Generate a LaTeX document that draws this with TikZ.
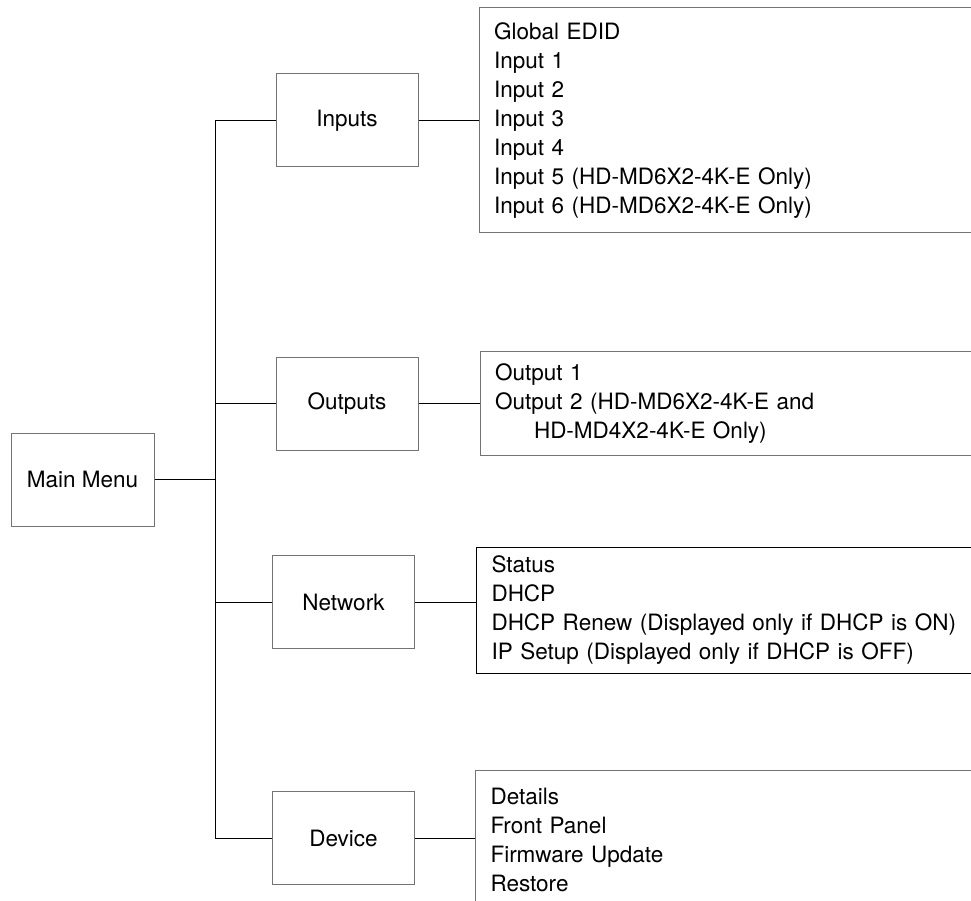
\documentclass[tikz,border=0pt]{standalone}
\usepackage{fontspec}
\setmainfont{TeX Gyre Heros}
\usepackage{tikz}
\usetikzlibrary{positioning}

\definecolor{boxgray}{RGB}{115,115,115}

\begin{document}
\begin{tikzpicture}[x=1pt,y=-1pt,line width=1pt,node distance=60pt,
	font=\fontsize{22.5}{29}\selectfont,
	menu node/.style={draw=boxgray,minimum width=142pt,minimum height=93pt,inner sep=0pt},
	list node/.style={draw=boxgray,anchor=west,align=left,text width=510pt,inner xsep=15pt,inner ysep=0pt}]

	\useasboundingbox (0,0) rectangle (971,901);
	\clip (0,0) rectangle (971,901);

	\node[menu node,minimum width=143pt] (main) at (82.5,479.5) {Main Menu};
	\node[menu node] (inputs) at (347,120.5) {Inputs};
	\node[menu node] (outputs) at (347,403.5) {Outputs};
	\node[menu node] (network) at (343.5,602) {Network};
	\node[menu node] (device) at (343.5,838) {Device};
	\coordinate (trunk) at (215,479.5);

	\node[list node,minimum height=225pt] (inlist) [right=of inputs] {Global EDID\\Input 1\\Input 2\\Input 3\\Input 4\\Input 5 (HD-MD6X2-4K-E Only)\\Input 6 (HD-MD6X2-4K-E Only)};
	\node[list node,minimum height=104pt] (outlist) [right=61pt of outputs] {Output 1\\Output 2 (HD-MD6X2-4K-E and\\\hspace*{39pt}HD-MD4X2-4K-E Only)};
	\node[list node,draw=black,minimum height=126pt,yshift=-8pt] (netlist) [right=61pt of network] {Status\\DHCP\\DHCP Renew (Displayed only if DHCP is ON)\\IP Setup (Displayed only if DHCP is OFF)};
	\node[list node,minimum height=140pt,yshift=-2pt] (devlist) [right=of device] {Details\\Front Panel\\Firmware Update\\Restore};

	\draw (main) -- (trunk);
	\draw (trunk) |- (inputs);
	\draw (trunk) |- (outputs);
	\draw (trunk) |- (network);
	\draw (trunk) |- (device);

	\draw (inputs) -- (inputs -| inlist.west);
	\draw (outputs) -- (outputs -| outlist.west);
	\draw (network) -- (network -| netlist.west);
	\draw (device) -- (device -| devlist.west);
\end{tikzpicture}
\end{document}
